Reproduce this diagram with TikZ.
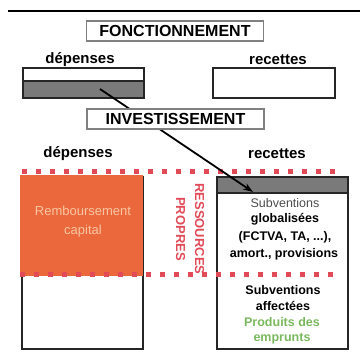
\documentclass[tikz,border=0pt]{standalone}
\usepackage{fontspec}
\setmainfont{Liberation Sans}
\usetikzlibrary{arrows.meta}

\definecolor{orangeremb}{RGB}{234,104,60}
\definecolor{rougeres}{RGB}{226,74,88}
\definecolor{vertemp}{RGB}{122,184,94}
\definecolor{pecheclair}{RGB}{248,198,162}
\definecolor{grisbarre}{RGB}{122,122,122}

\begin{document}
\begin{tikzpicture}[x=1pt,y=-1pt,
  titre/.style={draw=gray,line width=1.5pt,fill=white,inner sep=0pt,
    minimum width=177pt,minimum height=20pt,font=\fontsize{16}{16}\selectfont\bfseries},
  entete/.style={font=\fontsize{15}{15}\selectfont\bfseries},
  boite/.style={draw=black!85,line width=1.6pt,inner sep=0pt,anchor=north west},
  texte/.style={font=\fontsize{12.5}{13}\selectfont\bfseries},
  pointille/.style={rougeres,line width=5pt,dash pattern=on 5pt off 9pt}]

\useasboundingbox (0,0) rectangle (360,358);

% Filet du haut
\draw[line width=2pt] (8,11) -- (360,11);

% Fonctionnement
\node[entete] (fdeptxt) at (80,60) {dépenses};
\node[entete] (frectxt) at (278,60) {recettes};

\node[boite,minimum width=121pt,minimum height=30pt] (fdep) at (22,67) {};
\node[boite,fill=grisbarre,minimum width=121pt,minimum height=17pt] (fdepbas) at (22,80) {};
\node[boite,minimum width=122pt,minimum height=30pt] (frec) at (212,67) {};

% Investissement
\node[entete] (ideptxt) at (78,154) {dépenses};
\node[entete] (irectxt) at (277,154) {recettes};

\node[boite,minimum width=121pt,minimum height=172pt] (idep) at (21,176) {};
\fill[orangeremb] (20.2,175.2) rectangle (142.8,276);
\node[pecheclair,align=center,font=\fontsize{13}{19}\selectfont] (remb) at (83,222)
  {Remboursement\\capital};

\node[boite,minimum width=131pt,minimum height=172pt] (irec) at (216,176) {};
\node[boite,fill=grisbarre,minimum width=131pt,minimum height=16pt] (irechaut) at (216,176) {};

\node[texte,black!70,font=\fontsize{12.5}{13}\selectfont] (subglob) at (285,203) {Subventions};
\node[texte] (glob) at (285,219) {globalisées};
\node[texte] (fctva) at (285,237) {(FCTVA, TA, ...),};
\node[texte] (amort) at (284,254) {amort., provisions};
\node[texte] (subaff) at (283,290) {Subventions};
\node[texte] (aff) at (283,306) {affectées};
\node[texte,vertemp] (prod) at (282,322) {Produits des};
\node[texte,vertemp] (empr) at (282,339) {emprunts};

% Ressources propres
\draw[pointille] (22,172) -- (338,172);
\draw[pointille] (20,275) -- (335,275);
\node[rougeres,rotate=-90,align=center,font=\fontsize{13}{19}\selectfont\bfseries] (respro)
  at (190,229) {RESSOURCES\\PROPRES};

% Autofinancement
\coordinate (depart) at (100,89);
\coordinate (arrivee) at (253,192);
\draw[line width=1.8pt,-{Stealth[length=10pt,width=7pt]}] (depart) -- (arrivee);

% Titres
\node[titre] (fonc) at (175,31) {FONCTIONNEMENT};
\node[titre] (inv) at (175.5,119) {INVESTISSEMENT};

\end{tikzpicture}
\end{document}
